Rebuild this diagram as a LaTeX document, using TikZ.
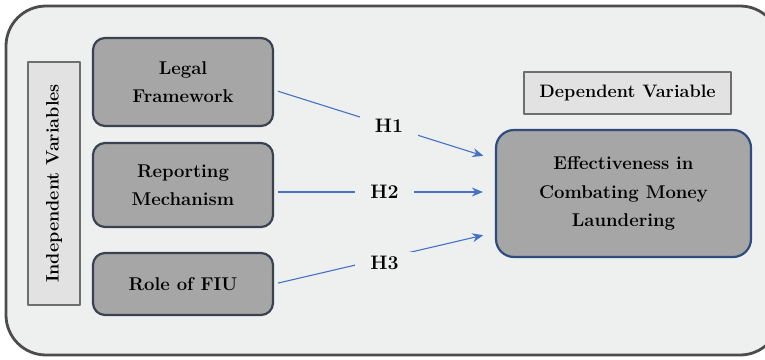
\documentclass[tikz,border=0pt]{standalone}
\usetikzlibrary{arrows.meta}
\definecolor{panelbg}{HTML}{EEF0F0}
\definecolor{varfill}{HTML}{A6A6A6}
\definecolor{varline}{HTML}{3A4150}
\definecolor{tagfill}{HTML}{E2E2E2}
\definecolor{tagline}{HTML}{6E6E6E}
\definecolor{effline}{HTML}{2E4C7E}
\definecolor{hypblue}{HTML}{4472C4}
\begin{document}
\begin{tikzpicture}[x=1pt, y=-1pt, line join=round,
    font=\fontsize{18.5}{28.5}\selectfont\bfseries,
    varbox/.style={draw=varline, fill=varfill, line width=2.2pt, rounded corners=12pt,
        align=center, inner sep=0pt},
    tagbox/.style={draw=tagline, fill=tagfill, line width=1.8pt, inner sep=0pt},
    hyp/.style={draw=hypblue, line width=1.1pt, -{Stealth[length=11pt, width=9pt]}},
    hlabel/.style={fill=panelbg, inner xsep=15pt, inner ysep=4pt, text=black,
        font=\fontsize{19.5}{22}\selectfont\bfseries}]
    \useasboundingbox (0,0) rectangle (765,359);
    \draw[draw=black!70, line width=2.8pt, fill=panelbg, rounded corners=40pt]
        (6,6) rectangle (780,355);
    % independent side
    \node[tagbox, minimum width=52pt, minimum height=243pt] (indep) at (54,183.5)
        {\rotatebox{90}{\fontsize{18}{22}\selectfont Independent Variables}};
    \node[varbox, minimum width=180pt, minimum height=88pt] (legal) at (183,82)
        {Legal\\Framework};
    \node[varbox, minimum width=180pt, minimum height=84pt] (report) at (183,185)
        {Reporting\\Mechanism};
    \node[varbox, minimum width=180pt, minimum height=62pt] (fiu) at (183,284)
        {Role of FIU};
    % dependent side
    \node[tagbox, minimum width=207pt, minimum height=42pt] (dep) at (627.5,93)
        {\fontsize{18}{22}\selectfont Dependent Variable};
    \node[varbox, draw=effline, rounded corners=18pt, minimum width=255pt,
        minimum height=127pt] (eff) at (623.5,193.5)
        {Effectiveness in\\Combating Money\\Laundering};
    % hypotheses
    \draw[hyp, shorten >=12pt, shorten <=4pt] ([yshift=-8pt]legal.east)
        -- node[hlabel, pos=0.52]{H1} ([yshift=34pt]eff.west);
    \draw[hyp, shorten >=12pt, shorten <=4pt] ([yshift=-7pt]report.east)
        -- node[hlabel, pos=0.5]{H2} ([yshift=-7pt]report.east -| eff.west);
    \draw[hyp, shorten >=12pt, shorten <=4pt] ([yshift=0pt]fiu.east)
        -- node[hlabel, pos=0.5, yshift=-5pt]{H3} ([yshift=-39pt]eff.west);
\end{tikzpicture}
\end{document}
